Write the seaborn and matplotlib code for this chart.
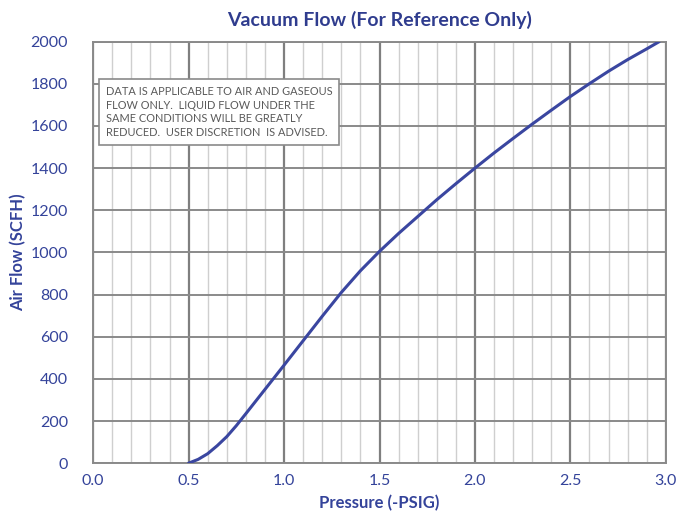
import matplotlib
matplotlib.use("Agg")
import matplotlib.pyplot as plt
import seaborn as sns
import pandas as pd
import numpy as np

pressure = [0.5, 0.55, 0.6, 0.65, 0.7, 0.75, 0.8, 0.9, 1.0, 1.1, 1.2, 1.3,
            1.4, 1.5, 1.6, 1.7, 1.8, 1.9, 2.0, 2.1, 2.2, 2.3, 2.4, 2.5, 2.6,
            2.7, 2.8, 2.9, 2.965]
air_flow = [0, 18, 45, 83, 126, 178, 235, 350, 465, 581, 697, 810,
            913, 1005, 1090, 1170, 1250, 1326, 1400, 1472, 1541, 1609, 1675, 1740, 1801,
            1860, 1915, 1966, 2000]
x_ticks = [0.0, 0.5, 1.0, 1.5, 2.0, 2.5, 3.0]
y_ticks = [0, 200, 400, 600, 800, 1000, 1200, 1400, 1600, 1800, 2000]
note = ("DATA IS APPLICABLE TO AIR AND GASEOUS\n"
        "FLOW ONLY.  LIQUID FLOW UNDER THE\n"
        "SAME CONDITIONS WILL BE GREATLY\n"
        "REDUCED.  USER DISCRETION  IS ADVISED.")

df = pd.DataFrame({"Pressure": pressure, "Flow": air_flow})

sns.set_theme(style="white")
plt.rcParams['font.family'] = ['Lato', 'DejaVu Sans']

blue = "#3A46A0"
label_blue = "#34439A"

fig = plt.figure(figsize=(6.9, 5.21), dpi=100)
ax = fig.add_axes([0.135, 0.111, 0.83, 0.809])

# grid
for xv in np.arange(0, 3.001, 0.1):
    major = abs(xv * 2 - round(xv * 2)) < 1e-6
    ax.axvline(xv, color="#7f7f7f" if major else "#cfcfcf", lw=1.6 if major else 1.0, zorder=1)
for yv in y_ticks:
    ax.axhline(yv, color="#8a8a8a", lw=1.4, zorder=1)

sns.lineplot(data=df, x="Pressure", y="Flow", ax=ax, color=blue, lw=2.2, zorder=3)

ax.set_xlim(0, 3.0)
ax.set_ylim(0, 2000)
ax.set_xticks(x_ticks)
ax.set_xticklabels([f"{v:.1f}" for v in x_ticks])
ax.set_yticks(y_ticks)
ax.tick_params(axis="x", length=0, pad=8, labelsize=11.5, labelcolor=label_blue)
ax.tick_params(axis="y", length=0, pad=18, labelsize=11.5, labelcolor=label_blue)
for s in ax.spines.values():
    s.set_color("#8a8a8a")
    s.set_linewidth(1.4)

ax.set_xlabel("Pressure (-PSIG)", fontsize=12, fontweight="bold", color=label_blue, labelpad=5)
ax.set_ylabel("Air Flow (SCFH)", fontsize=12, fontweight="bold", color=label_blue, labelpad=3)
ax.set_title("Vacuum Flow (For Reference Only)", fontsize=14, fontweight="bold", color="#2F3C8E", pad=11)

ax.text(0.022, 0.895, note, transform=ax.transAxes, fontsize=7.9, color="#5a5a5a",
        va="top", ha="left", linespacing=1.3, zorder=5,
        bbox=dict(boxstyle="square,pad=0.6", facecolor="white", edgecolor="#8a8a8a", lw=1.2))

fig.savefig("out.png", dpi=100)
